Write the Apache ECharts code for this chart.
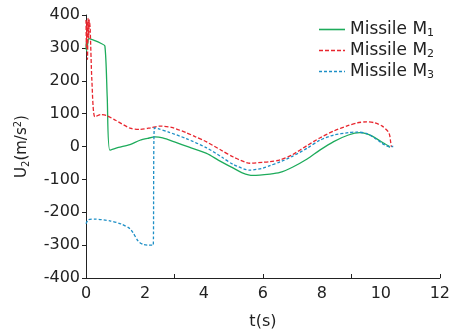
<!DOCTYPE html>
<html>
<head>
<meta charset="utf-8">
<script src="https://cdn.jsdelivr.net/npm/echarts@6/dist/echarts.min.js"></script>
<style>
  html, body { margin: 0; padding: 0; background: #fff; }
  #chart { width: 453px; height: 335px; }
</style>
</head>
<body>
<div id="chart"></div>
<script>
// time (s) and U2 (m/s^2)
const m1Time = [0, 0.01, 0.02, 0.03, 0.04, 0.06, 0.1, 0.3, 0.5, 0.64, 0.72, 0.81, 1.1, 1.49, 1.83, 2.1, 2.34, 2.6, 3.0, 3.5, 4.09, 4.5, 5.0, 5.3, 5.66, 6.24, 6.58, 7.0, 7.5, 7.93, 8.4, 8.9, 9.29, 9.6, 9.85, 10.05, 10.25, 10.3];
const m1Vals = [295, 320, 290, 326, 300, 315, 328, 322, 314, 306, 150, -11, -3, 6, 19, 25, 29, 26, 14, -2, -21, -42, -66, -80, -88, -84, -79, -63, -38, -11, 15, 35, 42, 36, 24, 13, 2, -3];

const m2Time = [0, 0.015, 0.03, 0.05, 0.07, 0.09, 0.11, 0.14, 0.2, 0.3, 0.5, 0.7, 1.0, 1.49, 1.83, 2.2, 2.5, 2.9, 3.4, 3.7, 4.09, 4.6, 5.0, 5.56, 6.0, 6.24, 6.58, 7.0, 7.5, 7.93, 8.4, 8.9, 9.2, 9.51, 9.8, 10.05, 10.25, 10.3, 10.33, 10.36];
const m2Vals = [385, 300, 380, 265, 390, 330, 385, 360, 200, 90, 97, 94, 80, 56, 52, 57, 62, 58, 42, 30, 14, -12, -32, -51, -48, -46, -41, -25, 3, 26, 47, 64, 72, 75, 72, 62, 45, 34, 15, -1];

const m3Time = [0, 0.08, 0.3, 0.81, 1.2, 1.49, 1.6, 1.77, 1.94, 2.1, 2.23, 2.28, 2.32, 2.44, 2.8, 3.4, 4.09, 4.6, 5.0, 5.56, 6.0, 6.24, 6.58, 7.0, 7.5, 7.93, 8.4, 8.9, 9.17, 9.5, 9.8, 10.0, 10.19, 10.3, 10.42];
const m3Vals = [-235, -223, -221, -226, -236, -250, -263, -288, -298, -300, -300, -300, 57, 54, 44, 24, -4, -32, -55, -72, -66, -58, -47, -30, -5, 19, 35, 42, 44, 40, 25, 12, 2, 0, 0];

const seriesNames = ['Missile M1', 'Missile M2', 'Missile M3'];
const seriesColors = ['#1dab5b', '#e8262e', '#1d8fc6'];

const zip = (ts, vs) => ts.map((t, i) => [t, vs[i]]);

// legend swatch: a plain or dashed stroke drawn as a filled path (26x14 box)
const swatch = (dash, gap) => {
    let p = 'path://M0,0L0,0M26,14L26,14';
    const step = gap ? dash + gap : 26;
    for (let x = 0; x < 26; x += step) {
        const x2 = Math.min(26, gap ? x + dash : 26);
        p += `M${x},6.2L${x2},6.2L${x2},7.8L${x},7.8Z`;
    }
    return p;
};
const legendIcons = [swatch(26, 0), swatch(4, 2), swatch(3, 2)];

const font = 'DejaVu Sans';
const chart = echarts.init(document.getElementById('chart'), null, { renderer: 'canvas' });

const option = {
    animation: false,
    grid: { left: 86, right: 13, top: 15, bottom: 55 },
    legend: {
        orient: 'vertical',
        left: 314,
        top: 16,
        itemWidth: 26,
        itemHeight: 14,
        itemGap: 3.5,
        data: seriesNames.map((n, i) => ({ name: n, icon: legendIcons[i] })),
        formatter: (name) => 'Missile M{s|' + name.slice(-1) + '}',
        textStyle: {
            fontFamily: font,
            fontSize: 17,
            color: '#222',
            rich: { s: { fontFamily: font, fontSize: 11, color: '#222', padding: [7, 0, 0, 0] } }
        }
    },
    xAxis: [
        {
            type: 'value',
            min: 0,
            max: 12,
            interval: 2,
            name: 't(s)',
            nameLocation: 'middle',
            nameGap: 36,
            nameTextStyle: { fontFamily: font, fontSize: 16, color: '#222' },
            axisLine: { onZero: false, lineStyle: { color: '#222', width: 1 } },
            axisTick: { show: false },
            axisLabel: { fontFamily: font, fontSize: 16, color: '#222', margin: 8 },
            splitLine: { show: false }
        },
        {
            // the picture's own tick marks sit every 3 s, pointing up
            type: 'value',
            position: 'bottom',
            min: 0,
            max: 12,
            interval: 3,
            axisLine: { show: false, onZero: false },
            axisTick: { show: true, inside: true, length: 4, lineStyle: { color: '#222' } },
            axisLabel: { show: false },
            splitLine: { show: false }
        }
    ],
    yAxis: {
        type: 'value',
        min: -400,
        max: 400,
        interval: 100,
        name: '{a|U}{s|2}{a|(m/s}{p|2}{a|)}',
        nameLocation: 'middle',
        nameGap: 55,
        nameTextStyle: {
            rich: {
                a: { fontFamily: font, fontSize: 15, color: '#222' },
                s: { fontFamily: font, fontSize: 10, color: '#222', padding: [8, 0, 0, 0] },
                p: { fontFamily: font, fontSize: 10, color: '#222', padding: [0, 0, 8, 0] }
            }
        },
        axisLine: { show: true, lineStyle: { color: '#222', width: 1 } },
        axisTick: { show: true, length: 4, lineStyle: { color: '#222' } },
        axisLabel: { fontFamily: font, fontSize: 16, color: '#222', margin: 6 },
        splitLine: { show: false }
    },
    series: [
        {
            name: seriesNames[0],
            type: 'line',
            data: zip(m1Time, m1Vals),
            symbol: 'none',
            smooth: 0.25,
            lineStyle: { color: seriesColors[0], width: 1.3, type: 'solid' },
            itemStyle: { color: seriesColors[0] }
        },
        {
            name: seriesNames[1],
            type: 'line',
            data: zip(m2Time, m2Vals),
            symbol: 'none',
            smooth: 0.25,
            lineStyle: { color: seriesColors[1], width: 1.3, type: [4, 2] },
            itemStyle: { color: seriesColors[1] }
        },
        {
            name: seriesNames[2],
            type: 'line',
            data: zip(m3Time, m3Vals),
            symbol: 'none',
            smooth: 0.25,
            lineStyle: { color: seriesColors[2], width: 1.3, type: [3, 2] },
            itemStyle: { color: seriesColors[2] }
        }
    ]
};

chart.setOption(option);
</script>
</body>
</html>
